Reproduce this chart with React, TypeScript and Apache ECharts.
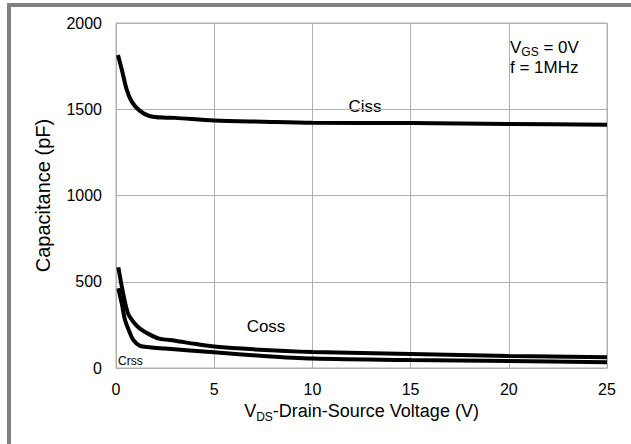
import React, { useEffect, useRef } from "react";
import * as echarts from "echarts";

const xTicks = [0, 5, 10, 15, 20, 25];
const yTicks = [0, 500, 1000, 1500, 2000];

const cissV = [0.1, 0.3, 0.55, 0.8, 1.2, 1.7, 2.5, 3, 5, 7.5, 10, 15, 20, 25];
const cissC = [1814, 1727, 1612, 1544, 1492, 1461, 1451, 1450, 1435, 1428, 1422, 1420, 1415, 1410];

const cossV = [0.12, 0.35, 0.6, 0.9, 1.2, 1.7, 2.2, 3, 4, 5, 7, 10, 15, 20, 25];
const cossC = [584, 440, 320, 265, 230, 195, 170, 158, 140, 124, 108, 93, 81, 70, 62];

const crssV = [0.12, 0.3, 0.46, 0.68, 0.88, 1.2, 1.7, 2.5, 5, 7.5, 10, 15, 20, 25];
const crssC = [462, 370, 278, 211, 162, 130, 120, 113, 91, 70, 55, 46, 41, 33];

const zip = (xs: number[], ys: number[]) => xs.map((x, i) => [x, ys[i]]);

export default function App() {
  const ref = useRef<HTMLDivElement>(null);
  useEffect(() => {
    if (!ref.current) return;
    const chart = echarts.init(ref.current, undefined, { renderer: "svg" });
    const font = "Liberation Sans, Arial, sans-serif";
    const gridColor = "#b0b0b0";
    const lineStyle = { color: "#000", width: 4 };
    chart.setOption({
      animation: false,
      backgroundColor: "#fff",
      textStyle: { fontFamily: font },
      grid: {
        left: 116,
        right: 24,
        top: 23,
        bottom: 76,
        show: true,
        borderColor: gridColor,
        borderWidth: 1,
      },
      xAxis: {
        type: "value",
        min: xTicks[0],
        max: xTicks[xTicks.length - 1],
        interval: 5,
        axisLine: { show: true, lineStyle: { color: gridColor } },
        axisTick: { show: false },
        splitLine: { show: true, lineStyle: { color: gridColor } },
        axisLabel: { color: "#000", fontSize: 16, fontFamily: font, margin: 13 },
        name: "{n|V}{s|DS}{n|-Drain-Source Voltage (V)}",
        nameLocation: "middle",
        nameGap: 31,
        nameTextStyle: {
          fontFamily: font,
          rich: {
            n: { fontSize: 18, color: "#000", fontFamily: font, lineHeight: 24 },
            s: { fontSize: 12, color: "#000", fontFamily: font, verticalAlign: "bottom" },
          },
        },
      },
      yAxis: {
        type: "value",
        min: yTicks[0],
        max: yTicks[yTicks.length - 1],
        interval: 500,
        axisLine: { show: true, lineStyle: { color: gridColor } },
        axisTick: { show: false },
        splitLine: { show: true, lineStyle: { color: gridColor } },
        axisLabel: {
          color: "#000",
          fontSize: 16,
          fontFamily: font,
          margin: 14,
          formatter: (v: number) => String(v),
        },
        name: "Capacitance (pF)",
        nameLocation: "middle",
        nameGap: 63,
        nameTextStyle: { color: "#000", fontSize: 20, fontFamily: font },
      },
      series: [
        { type: "line", name: "Ciss", data: zip(cissV, cissC), showSymbol: false, smooth: 0.3, lineStyle },
        { type: "line", name: "Coss", data: zip(cossV, cossC), showSymbol: false, smooth: 0.3, lineStyle },
        { type: "line", name: "Crss", data: zip(crssV, crssC), showSymbol: false, smooth: 0.3, lineStyle },
      ],
      graphic: [
        { type: "rect", shape: { x: 7, y: 3, width: 4, height: 441 }, style: { fill: "#808080" } },
        { type: "rect", shape: { x: 7, y: 3, width: 624, height: 4 }, style: { fill: "#808080" } },
        {
          type: "text",
          x: 365,
          y: 106,
          style: {
            text: "Ciss",
            fontSize: 17,
            fontFamily: font,
            fill: "#000",
            align: "center",
            verticalAlign: "middle",
            backgroundColor: "#fff",
            padding: [0, 4],
          },
        },
        {
          type: "text",
          x: 266,
          y: 326,
          style: { text: "Coss", fontSize: 17, fontFamily: font, fill: "#000", align: "center", verticalAlign: "middle" },
        },
        {
          type: "text",
          x: 118,
          y: 361,
          style: { text: "Crss", fontSize: 12, fontFamily: font, fill: "#000", align: "left", verticalAlign: "middle" },
        },
        {
          type: "text",
          x: 510,
          y: 47,
          style: {
            text: "{n|V}{s|GS}{n| = 0V}",
            fontFamily: font,
            verticalAlign: "middle",
            rich: {
              n: { fontSize: 17, fill: "#000", fontFamily: font, lineHeight: 22 },
              s: { fontSize: 12, fill: "#000", fontFamily: font, verticalAlign: "bottom" },
            },
          },
        },
        {
          type: "text",
          x: 510,
          y: 67,
          style: { text: "f = 1MHz", fontSize: 17, fontFamily: font, fill: "#000", verticalAlign: "middle" },
        },
      ],
    });
    return () => chart.dispose();
  }, []);
  return <div ref={ref} style={{ position: "fixed", left: 0, top: 0, width: 631, height: 444 }} />;
}
